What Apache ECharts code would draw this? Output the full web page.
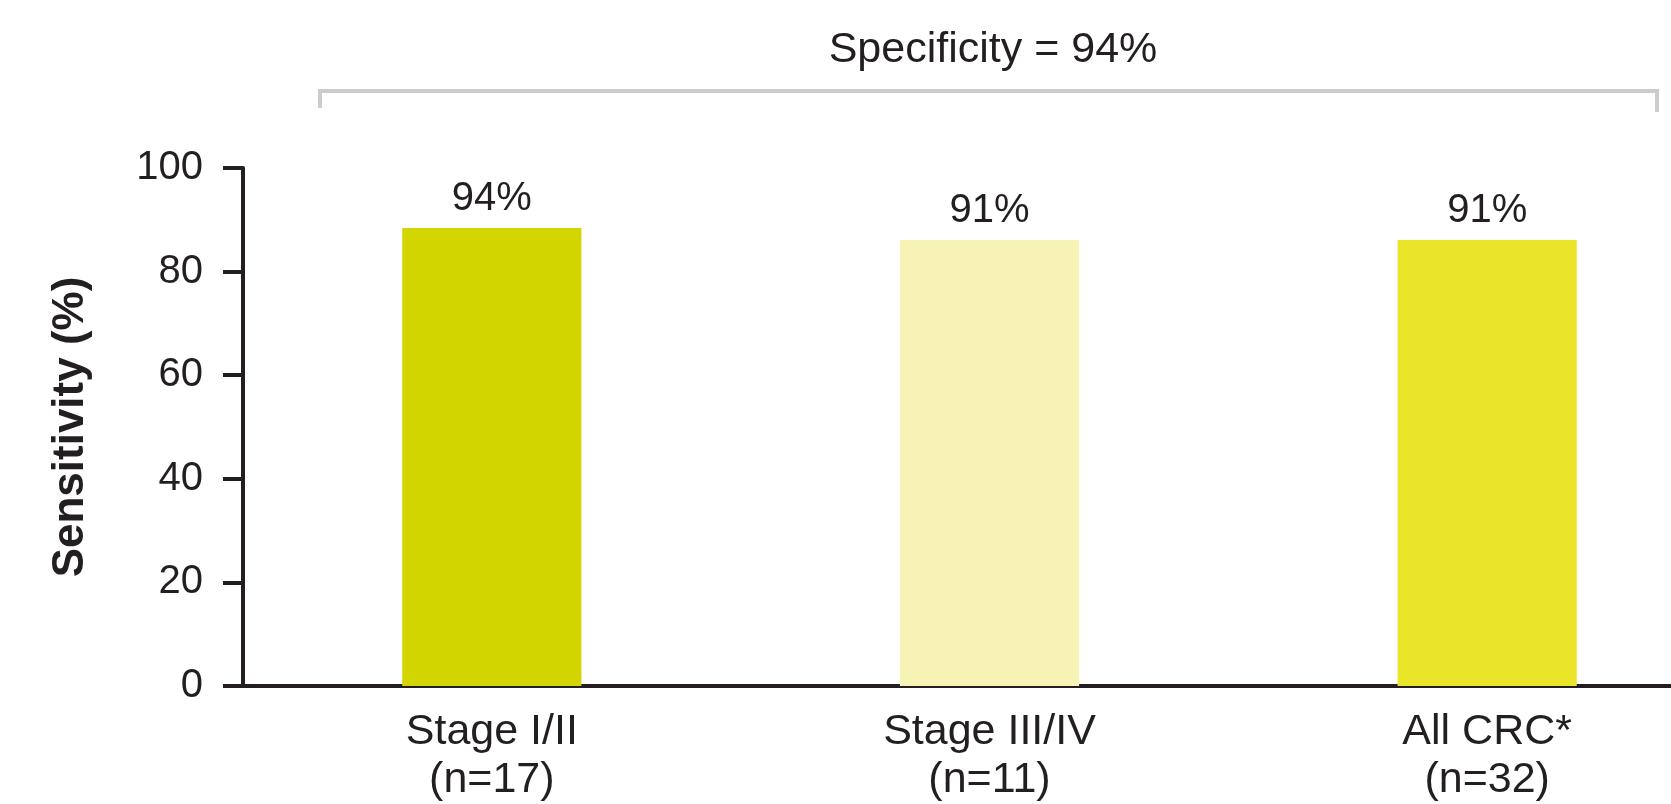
<!DOCTYPE html>
<html>
<head>
<meta charset="utf-8">
<script src="https://cdn.jsdelivr.net/npm/echarts@6/dist/echarts.min.js"></script>
<style>
  html, body { margin: 0; padding: 0; background: #ffffff; overflow: hidden; }
  /* the original plot runs past the right edge, so the canvas is wider than the window */
  #chart { width: 1736px; height: 804px; }
</style>
</head>
<body>
<div id="chart"></div>
<script>
// data
const categories = ['Stage I/II\n(n=17)', 'Stage III/IV\n(n=11)', 'All CRC*\n(n=32)']
const sensitivity = [88.4, 86.1, 86.1]
const barLabels = ['94%', '91%', '91%']
const barColors = ['#d2d500', '#f6f3b5', '#ebe52a']
const yTicks = [0, 20, 40, 60, 80, 100]
const specificityText = 'Specificity = 94%'

const FONT = '"Liberation Sans", Arial, sans-serif'
const TEXT = '#231f20'

const chart = echarts.init(document.getElementById('chart'), null, { renderer: 'canvas' })

chart.setOption({
  animation: false,
  backgroundColor: '#ffffff',
  title: {
    text: specificityText,
    left: 988,
    top: 24,
    textAlign: 'center',
    textStyle: { fontFamily: FONT, fontSize: 43, fontWeight: 'normal', color: TEXT }
  },
  // bracket above the bars
  graphic: [{
    type: 'polyline',
    shape: { points: [[320, 108], [320, 91], [1657, 91], [1657, 112]] },
    style: { stroke: '#cccccc', lineWidth: 4, fill: null }
  }],
  grid: { left: 243, top: 168, bottom: 117, right: 0 },
  xAxis: {
    type: 'category',
    data: categories,
    axisLine: { lineStyle: { color: TEXT, width: 4 } },
    axisTick: { show: false },
    axisLabel: {
      color: TEXT, fontFamily: FONT, fontSize: 43, lineHeight: 48, margin: 22
    }
  },
  yAxis: {
    type: 'value',
    min: yTicks[0],
    max: yTicks[yTicks.length - 1],
    interval: 20,
    name: 'Sensitivity (%)',
    nameLocation: 'middle',
    nameGap: 150,
    nameTextStyle: { color: TEXT, fontFamily: FONT, fontSize: 44, fontWeight: 'bold' },
    axisLine: { show: true, lineStyle: { color: TEXT, width: 4 } },
    axisTick: { show: true, length: 20, lineStyle: { color: TEXT, width: 4 } },
    axisLabel: { color: TEXT, fontFamily: FONT, fontSize: 40, margin: 40 },
    splitLine: { show: false }
  },
  series: [{
    type: 'bar',
    barWidth: '36%',
    data: sensitivity.map((v, i) => ({ value: v, itemStyle: { color: barColors[i] } })),
    label: {
      show: true,
      position: 'top',
      distance: 9,
      color: TEXT,
      fontFamily: FONT,
      fontSize: 40,
      formatter: (p) => barLabels[p.dataIndex]
    }
  }]
})
</script>
</body>
</html>
